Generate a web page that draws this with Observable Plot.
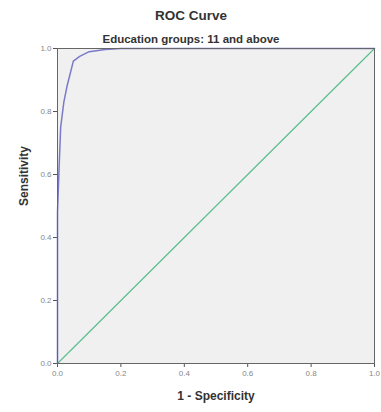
<!DOCTYPE html>
<html>
<head>
<meta charset="utf-8">
<script src="https://cdn.jsdelivr.net/npm/d3@7"></script>
<script src="https://cdn.jsdelivr.net/npm/@observablehq/plot@0.6"></script>
<style>
body { margin: 0; background: #fff; }
svg { font-family: "Liberation Sans", Arial, sans-serif; }
</style>
</head>
<body>
<div id="chart"></div>
<script>
const fpr = [0, 0, 0.005, 0.01, 0.02, 0.03, 0.05, 0.07, 0.1, 0.15, 0.2, 1];
const sensitivity = [0, 0.48, 0.62, 0.75, 0.83, 0.88, 0.96, 0.975, 0.99, 0.997, 1, 1];
const refX = [0, 1];
const refY = [0, 1];
const ticks = [0, 0.2, 0.4, 0.6, 0.8, 1.0];
const title = "ROC Curve";
const subtitle = "Education groups: 11 and above";
const xLabel = "1 - Specificity";
const yLabel = "Sensitivity";

const curve = fpr.map((x, i) => ({x, y: sensitivity[i]}));
const ref = refX.map((x, i) => ({x, y: refY[i]}));

const chart = Plot.plot({
  width: 381,
  height: 412,
  marginTop: 48,
  marginBottom: 49,
  marginLeft: 57,
  marginRight: 7,
  style: {fontFamily: "Liberation Sans, Arial, sans-serif", fontSize: "8px", background: "#fff"},
  x: {domain: [0, 1], ticks, tickFormat: d3.format(".1f"), label: null},
  y: {domain: [0, 1], ticks, tickFormat: d3.format(".1f"), label: null},
  marks: [
    Plot.frame({fill: "#f0f0f0", stroke: "none"}),
    Plot.axisX({ticks, tickFormat: d3.format(".1f"), tickSize: 4, tickPadding: 3, stroke: "#555", color: "#888", fontSize: 8}),
    Plot.axisY({ticks, tickFormat: d3.format(".1f"), tickSize: 4, tickPadding: 2, stroke: "#555", color: "#888", fontSize: 8}),
    Plot.line(ref, {x: "x", y: "y", stroke: "#5cbf8e", strokeWidth: 1.2}),
    Plot.line(curve, {x: "x", y: "y", stroke: "#7a7ac8", strokeWidth: 1.5}),
    Plot.frame({stroke: "#666", strokeWidth: 1}),
    Plot.text([title], {frameAnchor: "top", dx: -25, dy: -38, text: d => d, fontSize: 13.5, fontWeight: "bold", fill: "#333"}),
    Plot.text([subtitle], {frameAnchor: "top", dx: -25, dy: -14, text: d => d, fontSize: 11.5, fontWeight: "bold", fill: "#333"}),
    Plot.text([xLabel], {frameAnchor: "bottom", dy: 36, text: d => d, fontSize: 12, fontWeight: "bold", fill: "#333"}),
    Plot.text([yLabel], {frameAnchor: "left", dx: -33, rotate: -90, text: d => d, fontSize: 12, fontWeight: "bold", fill: "#333"})
  ]
});
document.getElementById("chart").append(chart);
</script>
</body>
</html>
